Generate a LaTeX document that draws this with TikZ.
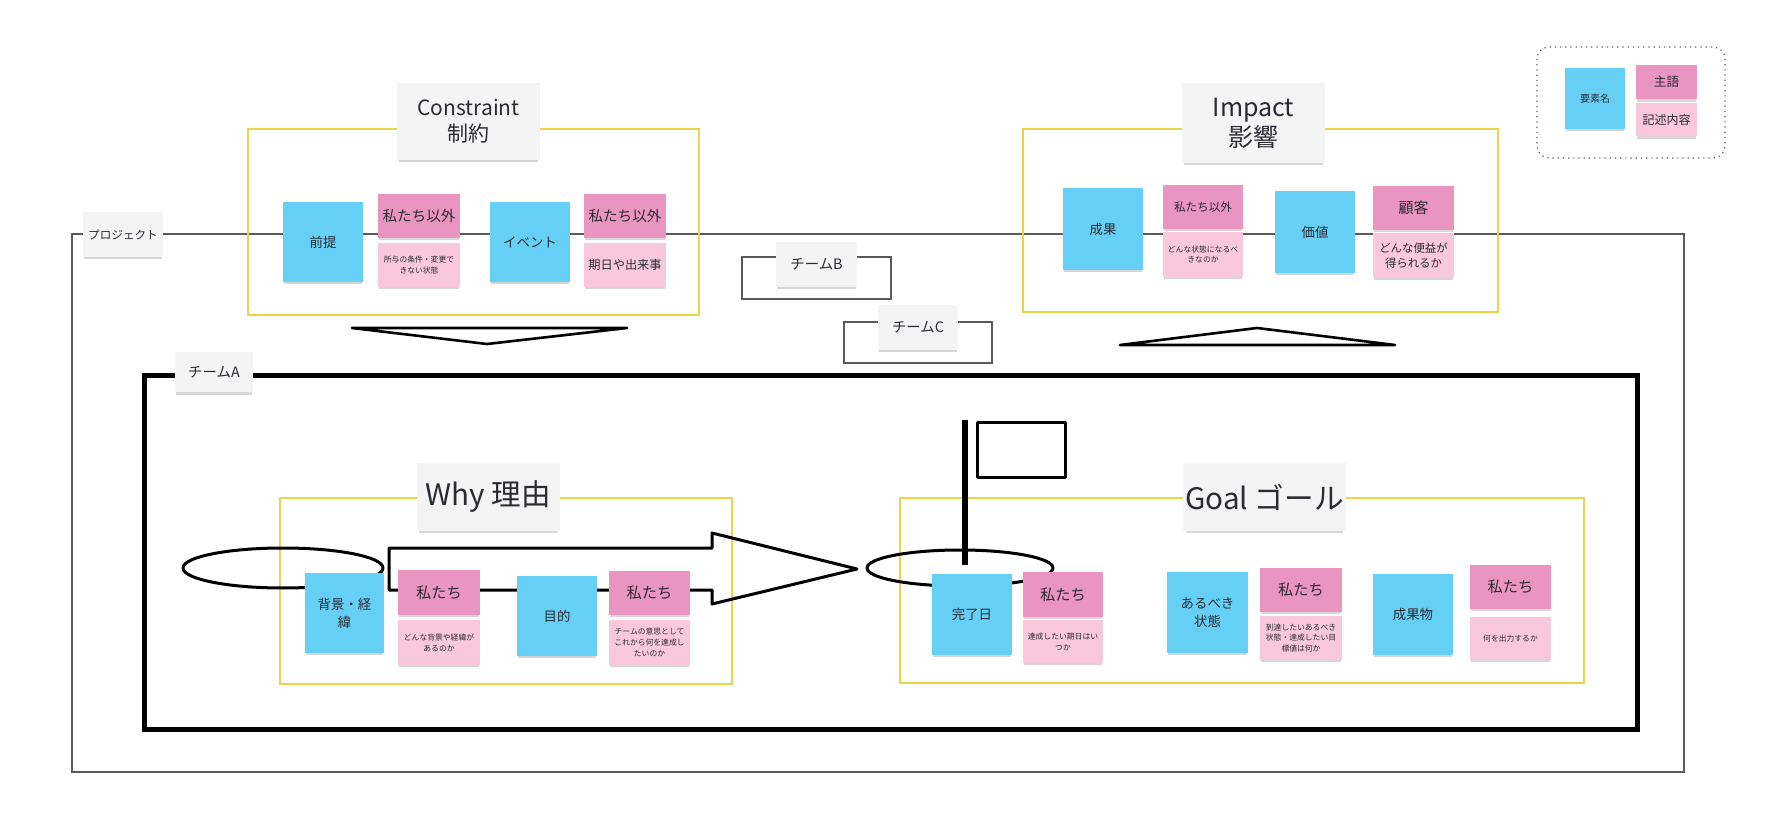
\documentclass[tikz,border=0pt]{standalone}
\usepackage{fontspec}
\setmainfont{Noto Sans CJK JP}
\usetikzlibrary{shadows}

\definecolor{stickyblue}{HTML}{66CFF5}
\definecolor{pinkdark}{HTML}{EA94C1}
\definecolor{pinklight}{HTML}{FAC8DD}
\definecolor{cardgray}{HTML}{F4F4F4}
\definecolor{frameyellow}{HTML}{EDD24A}
\definecolor{framegray}{HTML}{5A5A5A}
\definecolor{inktext}{HTML}{2B2B33}

\tikzset{
  softshadow/.style={drop shadow={shadow xshift=0pt, shadow yshift=-1.6pt, shadow scale=0.97, opacity=0.16, fill=black}},
  blue note/.style={fill=stickyblue, softshadow, inner sep=1pt, outer sep=0pt, text=inktext, font=\fontsize{6.7}{9}\selectfont},
  subject note/.style={fill=pinkdark, softshadow, inner sep=1pt, outer sep=0pt, text=inktext, font=\fontsize{7.3}{9}\selectfont},
  detail note/.style={fill=pinklight, softshadow, inner sep=1pt, outer sep=0pt, text=inktext, font=\fontsize{3.9}{5.4}\selectfont},
  title card/.style={fill=cardgray, softshadow, inner sep=1pt, outer sep=0pt, text=inktext},
  group frame/.style={draw=frameyellow, line width=1pt},
  scope frame/.style={draw=framegray, line width=0.75pt},
  ink/.style={draw=black, line width=1.5pt, line join=round},
}

% rectangle node given by its corners: style, name, x1, y1, x2, y2, text
\newcommand{\stk}[7]{%
  \pgfmathsetmacro\stkw{(#5-#3)*0.5}%
  \pgfmathsetmacro\stkh{(#6-#4)*0.5}%
  \node[#1, minimum width=\stkw pt, minimum height=\stkh pt, align=center]
    (#2) at ({(#3+#5)/2},{(#4+#6)/2}) {#7};}

\begin{document}
\begin{tikzpicture}[x=0.5pt, y=-0.5pt]
\useasboundingbox (0,0) rectangle (1772,828);

% ---------- outer frames ----------
\draw[scope frame] (72,234) rectangle (1684,772);
\draw[scope frame] (742,257) rectangle (891,299);
\draw[scope frame] (844,322) rectangle (992,363);
\draw[draw=black, line width=2.5pt] (144,376) rectangle (1637,729);

% ---------- group frames ----------
\draw[group frame] (248,129) rectangle (699,315);
\draw[group frame] (1023,129) rectangle (1498,312);
\draw[group frame] (280,498) rectangle (732,684);
\draw[group frame] (900,498) rectangle (1584,683);

% ---------- flow marks ----------
\draw[ink, line width=1.3pt] (352,328) -- (627,328) -- (487,344) -- cycle;
\draw[ink, line width=1.3pt] (1120,345) -- (1395,345) -- (1257,328) -- cycle;

\draw[ink] (283,568) ellipse [x radius=100, y radius=20];
\draw[ink] (389,548) -- (712,548) -- (712,533) -- (857,569) -- (712,604) -- (712,590) -- (389,590) -- cycle;

\draw[ink] (960,568) ellipse [x radius=93, y radius=18];
\draw[draw=black, line width=3pt] (965,420) -- (965,565);
\draw[ink] (977,423) rectangle (1065,477);

% ---------- Constraint ----------
\stk{blue note}{pre}{283}{202}{363}{282}{前提}
\stk{subject note}{preS}{378}{194}{460}{238}{私たち以外}
\stk{detail note}{preD}{378}{243}{460}{287}{所与の条件・変更で\\きない状態}
\stk{blue note}{evt}{490}{202}{570}{282}{イベント}
\stk{subject note}{evtS}{584}{194}{666}{238}{私たち以外}
\stk{detail note, font=\fontsize{6.1}{8}\selectfont}{evtD}{584}{243}{666}{287}{期日や出来事}
\stk{title card, font=\fontsize{10.5}{13}\selectfont}{constraint}{397}{83}{540}{160}{Constraint\\制約}

% ---------- Impact ----------
\stk{blue note}{res}{1063}{188}{1143}{270}{成果}
\stk{subject note, font=\fontsize{5.8}{7}\selectfont}{resS}{1163}{185}{1243}{229}{私たち以外}
\stk{detail note}{resD}{1163}{232}{1243}{277}{どんな状態になるべ\\きなのか}
\stk{blue note}{val}{1275}{191}{1355}{273}{価値}
\stk{subject note, font=\fontsize{7.5}{9}\selectfont}{valS}{1373}{186}{1454}{230}{顧客}
\stk{detail note, font=\fontsize{5.7}{7.6}\selectfont}{valD}{1373}{233}{1454}{278}{どんな便益が\\得られるか}
\stk{title card, font=\fontsize{12.5}{15}\selectfont}{impact}{1182}{83}{1325}{163}{Impact\\影響}

% ---------- legend ----------
\draw[draw=framegray, line width=0.6pt, dotted, rounded corners=6pt] (1537,47) rectangle (1725,158);
\stk{blue note, font=\fontsize{5}{6}\selectfont}{legE}{1565}{68}{1625}{129}{要素名}
\stk{subject note, font=\fontsize{6.3}{7}\selectfont}{legS}{1636}{65}{1697}{99}{主語}
\stk{detail note, font=\fontsize{6}{7}\selectfont}{legD}{1636}{103}{1697}{136}{記述内容}

% ---------- frame labels ----------
\stk{title card, font=\fontsize{5.8}{7}\selectfont}{project}{83}{212}{163}{257}{プロジェクト}
\stk{title card, font=\fontsize{7.2}{8}\selectfont}{teamB}{776}{242}{857}{287}{チームB}
\stk{title card, font=\fontsize{7.2}{8}\selectfont}{teamC}{878}{305}{958}{350}{チームC}
\stk{title card, font=\fontsize{7.2}{8}\selectfont}{teamA}{175}{352}{253}{392}{チームA}

% ---------- Why ----------
\stk{blue note}{bg}{305}{573}{384}{653}{背景・経\\緯}
\stk{subject note, font=\fontsize{7.6}{10}\selectfont}{bgS}{398}{570}{480}{615}{私たち}
\stk{detail note}{bgD}{398}{620}{480}{665}{どんな背景や経緯が\\あるのか}
\stk{blue note}{aim}{517}{576}{597}{656}{目的}
\stk{subject note, font=\fontsize{7.6}{10}\selectfont}{aimS}{609}{571}{690}{615}{私たち}
\stk{detail note}{aimD}{609}{620}{690}{665}{チームの意思として\\これから何を達成し\\たいのか}
\stk{title card, font=\fontsize{14.8}{18}\selectfont}{why}{417}{463}{560}{531}{Why 理由}

% ---------- Goal ----------
\stk{blue note}{due}{932}{574}{1012}{655}{完了日}
\stk{subject note, font=\fontsize{7.6}{10}\selectfont}{dueS}{1023}{572}{1103}{617}{私たち}
\stk{detail note}{dueD}{1023}{620}{1103}{663}{達成したい期日はい\\つか}
\stk{blue note}{state}{1167}{572}{1248}{653}{あるべき\\状態}
\stk{subject note, font=\fontsize{7.6}{10}\selectfont}{stateS}{1260}{568}{1342}{612}{私たち}
\stk{detail note}{stateD}{1260}{616}{1342}{660}{到達したいあるべき\\状態・達成したい目\\標値は何か}
\stk{blue note}{out}{1373}{574}{1453}{655}{成果物}
\stk{subject note, font=\fontsize{7.6}{10}\selectfont}{outS}{1470}{565}{1551}{609}{私たち}
\stk{detail note}{outD}{1470}{617}{1551}{660}{何を出力するか}
\stk{title card, font=\fontsize{14.8}{18}\selectfont}{goal}{1184}{463}{1345}{531}{Goal ゴール}

\end{tikzpicture}
\end{document}
